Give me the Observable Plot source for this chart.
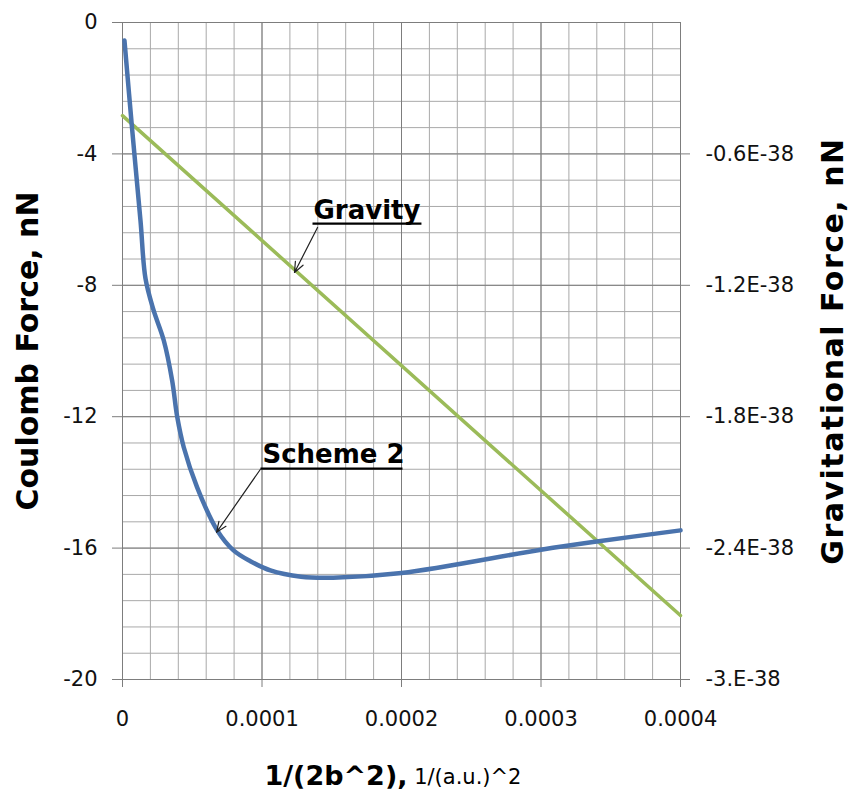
<!DOCTYPE html>
<html>
<head>
<meta charset="utf-8">
<script src="https://cdn.jsdelivr.net/npm/d3@7"></script>
<script src="https://cdn.jsdelivr.net/npm/@observablehq/plot@0.6"></script>
<style>
  html, body { margin: 0; padding: 0; background: #fff; }
  svg { font-family: "DejaVu Sans", sans-serif; }
</style>
</head>
<body>
<div id="chart"></div>
<script>
// ---- data ----
const xTickValues = [0, 0.0001, 0.0002, 0.0003, 0.0004];
const xTickLabels = ["0", "0.0001", "0.0002", "0.0003", "0.0004"];
const leftTickValues = [0, -4, -8, -12, -16, -20];
const leftTickLabels = ["0", "-4", "-8", "-12", "-16", "-20"];
const rightTickValues = [-0.6e-38, -1.2e-38, -1.8e-38, -2.4e-38, -3.0e-38];
const rightTickLabels = ["-0.6E-38", "-1.2E-38", "-1.8E-38", "-2.4E-38", "-3.E-38"];

// Scheme 2 (Coulomb force, nN)
const schemeX = [0.0000014, 0.000007, 0.0000129, 0.0000165, 0.0000222, 0.0000296, 0.0000356, 0.0000392,
                 0.0000439, 0.0000535, 0.0000679, 0.0000796, 0.0000917, 0.000106, 0.000128, 0.000151,
                 0.000200, 0.000300, 0.000340, 0.000400];
const schemeY = [-0.55, -3.29, -6.03, -7.8, -8.75, -9.68, -10.9, -12.0,
                 -12.93, -14.15, -15.46, -16.07, -16.4, -16.68, -16.87, -16.9,
                 -16.76, -16.05, -15.8, -15.46];

// Gravity (gravitational force, nN)
const gravityX = [0, 0.0004];
const gravityY = [-0.425e-38, -2.708e-38];

// annotations (data coordinates)
const annotLabels = ["Gravity", "Scheme 2"];
const annotTextX = [0.0001369, 0.0001003];
const annotTextY = [-5.97, -13.42];
const annotLineX1 = [0.0001362, 0.0000989];
const annotLineX2 = [0.0002143, 0.0002007];
const annotLineY = [-6.12, -13.58];
const annotArrowX1 = [0.0001398, 0.0000989];
const annotArrowY1 = [-6.24, -13.6];
const annotArrowX2 = [0.0001233, 0.0000674];
const annotArrowY2 = [-7.61, -15.52];

// ---- derived tables ----
const G_FULL = 3e-38;          // right axis bottom magnitude
const LEFT_FULL = 20;          // left axis bottom magnitude
const toLeft = g => g / G_FULL * LEFT_FULL;

const scheme = schemeX.map((x, i) => ({x, y: schemeY[i]}));
const gravity = gravityX.map((x, i) => ({x, y: toLeft(gravityY[i])}));
const annots = annotLabels.map((t, i) => ({
  t, tx: annotTextX[i], ty: annotTextY[i],
  lx1: annotLineX1[i], lx2: annotLineX2[i], ly: annotLineY[i],
  ax1: annotArrowX1[i], ay1: annotArrowY1[i], ax2: annotArrowX2[i], ay2: annotArrowY2[i]
}));
const xMinor = d3.range(0, 21).map(i => i * 0.00002);
const yMinor = d3.range(0, 26).map(i => -i * 0.8);
const rightTickPos = rightTickValues.map(toLeft);

const minorGrid = "#a9a9a9";
const majorGrid = "#7d7d7d";

const chart = Plot.plot({
  width: 852,
  height: 793,
  marginLeft: 122,
  marginRight: 172,
  marginTop: 22,
  marginBottom: 114,
  x: {domain: [0, 0.0004]},
  y: {domain: [-20, 0]},
  marks: [
    Plot.ruleX(xMinor, {stroke: minorGrid, strokeWidth: 1}),
    Plot.ruleY(yMinor, {stroke: minorGrid, strokeWidth: 1}),
    Plot.ruleX(xTickValues, {stroke: majorGrid, strokeWidth: 1}),
    Plot.ruleY(leftTickValues, {stroke: majorGrid, strokeWidth: 1}),
    Plot.axisX(xTickValues, {
      anchor: "bottom", tickSize: 8, tickPadding: 24, stroke: majorGrid, fill: "#111",
      fontSize: 21, tickFormat: (d, i) => xTickLabels[i], label: null
    }),
    Plot.axisY(leftTickValues, {
      anchor: "left", tickSize: 10, tickPadding: 15, stroke: majorGrid, fill: "#111",
      fontSize: 21, tickFormat: (d, i) => leftTickLabels[i], label: null
    }),
    Plot.axisY(rightTickPos, {
      anchor: "right", tickSize: 9, tickPadding: 16, stroke: majorGrid, fill: "#111",
      fontSize: 21, tickFormat: (d, i) => rightTickLabels[i], label: null
    }),
    Plot.line(gravity, {x: "x", y: "y", stroke: "#9bbb59", strokeWidth: 3.5}),
    Plot.line(scheme, {x: "x", y: "y", stroke: "#4a73ad", strokeWidth: 4.5, curve: "catmull-rom"}),
    Plot.link(annots, {x1: "lx1", x2: "lx2", y1: "ly", y2: "ly", stroke: "#000", strokeWidth: 2.2}),
    Plot.arrow(annots, {x1: "ax1", y1: "ay1", x2: "ax2", y2: "ay2", stroke: "#222", strokeWidth: 1.2,
      headLength: 14, headAngle: 45}),
    Plot.text(annots, {x: "tx", y: "ty", text: "t", textAnchor: "start", lineAnchor: "bottom",
      fontSize: 26, fontWeight: "bold", fill: "#000"}),
    // axis titles
    Plot.text(["Coulomb Force, nN"], {frameAnchor: "left", textAnchor: "middle", rotate: -90, dx: -94,
      fontSize: 30, fontWeight: "bold", fill: "#000", lineAnchor: "middle"}),
    Plot.text(["Gravitational Force, nN"], {frameAnchor: "right", textAnchor: "middle", rotate: -90, dx: 153,
      fontSize: 30, fontWeight: "bold", fill: "#000", lineAnchor: "middle", className: "grav-label"}),
    Plot.text(["1/(2b^2),"], {frameAnchor: "bottom", textAnchor: "end", lineAnchor: "middle",
      dy: 97, dx: 6, fontSize: 27, fontWeight: "bold", fill: "#000"}),
    Plot.text([" 1/(a.u.)^2"], {frameAnchor: "bottom", textAnchor: "start", lineAnchor: "middle",
      dy: 98, dx: 6, fontSize: 21, fill: "#000"})
  ]
});
d3.select(chart).selectAll(".grav-label text").style("letter-spacing", "1.5px");
document.getElementById("chart").appendChild(chart);
</script>
</body>
</html>
